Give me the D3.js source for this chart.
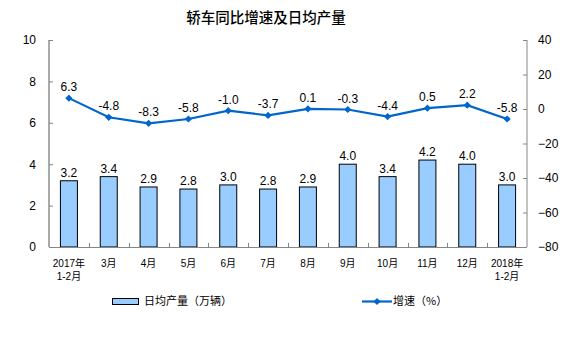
<!DOCTYPE html>
<html>
<head>
<meta charset="utf-8">
<script src="https://cdn.jsdelivr.net/npm/d3@7"></script>
<style>
  html, body { margin: 0; padding: 0; background: #fff; }
  svg { display: block; }
</style>
</head>
<body>
<svg id="chart" width="565" height="343"></svg>
<script>
// Categories (month labels, two lines where needed)
const months = [
  ["2017年", "1-2月"], ["3月"], ["4月"], ["5月"], ["6月"], ["7月"],
  ["8月"], ["9月"], ["10月"], ["11月"], ["12月"], ["2018年", "1-2月"]
];
// Daily average output (10k vehicles)
const dailyOutput = [3.2, 3.4, 2.9, 2.8, 3.0, 2.8, 2.9, 4.0, 3.4, 4.2, 4.0, 3.0];
// Year-on-year growth (%)
const growthRate = [6.3, -4.8, -8.3, -5.8, -1.0, -3.7, 0.1, -0.3, -4.4, 0.5, 2.2, -5.8];
// Axis ticks
const leftTicks = [0, 2, 4, 6, 8, 10];
const rightTicks = [-80, -60, -40, -20, 0, 20, 40];

const titleText = "轿车同比增速及日均产量";
const barLegend = "日均产量（万辆）";
const lineLegend = "增速（%）";

const svg = d3.select("#chart");
const m = { left: 49, right: 527, top: 40, bottom: 247 };
const sansFont = "'Liberation Sans', Arial, sans-serif";
const cjkFont = "'Noto Sans CJK SC', sans-serif";
const labelFont = "'Liberation Sans', 'Noto Sans CJK SC', sans-serif";
const axisColor = "#868686";
const lineColor = "#0066CC";
const barFill = "#99CCFF";

const x = d3.scaleBand().domain(d3.range(months.length)).range([m.left, m.right]);
const yL = d3.scaleLinear().domain([0, 10]).range([m.bottom, m.top]);
const yR = d3.scaleLinear().domain([-80, 40]).range([m.bottom, m.top]);
const cx = i => x(i) + x.bandwidth() / 2;

// Title
svg.append("text")
  .attr("x", 266).attr("y", 23)
  .attr("text-anchor", "middle")
  .style("font-family", cjkFont).style("font-size", "14.5px").style("font-weight", "500")
  .attr("fill", "#000")
  .text(titleText);

// Left and right value axes, ticks pointing inward
const leftAxis = svg.append("g").attr("transform", `translate(${m.left},0)`)
  .call(d3.axisLeft(yL).tickValues(leftTicks).tickSize(-4).tickPadding(13));
const rightAxis = svg.append("g").attr("transform", `translate(${m.right},0)`)
  .call(d3.axisRight(yR).tickValues(rightTicks).tickSize(-4).tickPadding(11));

[leftAxis, rightAxis].forEach(g => {
  g.select(".domain").attr("d", `M0,${m.top}V${m.bottom}`).attr("stroke", axisColor);
  g.selectAll(".tick line").attr("stroke", axisColor);
  g.selectAll(".tick text").style("font-family", sansFont).style("font-size", "12px").attr("fill", "#000");
});
leftAxis.select(".domain").attr("stroke", "#555");

// Bars
const bw = 17;
svg.append("g").selectAll("rect").data(dailyOutput).join("rect")
  .attr("x", (d, i) => cx(i) - bw / 2)
  .attr("y", d => yL(d))
  .attr("width", bw)
  .attr("height", d => yL(0) - yL(d))
  .attr("fill", barFill)
  .attr("stroke", "#000").attr("stroke-width", 1);

// Bottom axis with category-boundary ticks pointing up
const bottom = svg.append("g");
bottom.append("line")
  .attr("x1", m.left).attr("x2", m.right)
  .attr("y1", m.bottom + 0.5).attr("y2", m.bottom + 0.5)
  .attr("stroke", axisColor);
bottom.selectAll("line.tk").data(d3.range(1, months.length)).join("line")
  .attr("class", "tk")
  .attr("x1", i => Math.round(x(i)) + 0.5).attr("x2", i => Math.round(x(i)) + 0.5)
  .attr("y1", m.bottom).attr("y2", m.bottom - 4)
  .attr("stroke", axisColor);

// Category labels, one text per line
const catRows = months.flatMap((lines, i) => lines.map((t, j) => ({ i, j, t })));
svg.append("g").selectAll("text").data(catRows).join("text")
  .attr("x", d => cx(d.i))
  .attr("y", d => 267 + d.j * 12.5)
  .attr("text-anchor", "middle")
  .style("font-family", labelFont).style("font-size", "10px").attr("fill", "#000")
  .text(d => d.t);

// Bar value labels
svg.append("g").selectAll("text").data(dailyOutput).join("text")
  .attr("x", (d, i) => cx(i))
  .attr("y", d => yL(d) - 4)
  .attr("text-anchor", "middle")
  .style("font-family", sansFont).style("font-size", "12px").attr("fill", "#000")
  .text(d => d.toFixed(1));

// Growth line with diamond markers
const line = d3.line().x((d, i) => cx(i)).y(d => yR(d));
svg.append("path").datum(growthRate)
  .attr("d", line)
  .attr("fill", "none").attr("stroke", lineColor).attr("stroke-width", 2.2);

const diamond = d3.symbol().type(d3.symbolSquare).size(26);
svg.append("g").selectAll("path").data(growthRate).join("path")
  .attr("transform", (d, i) => `translate(${cx(i)},${yR(d)}) rotate(45)`)
  .attr("d", diamond)
  .attr("fill", lineColor);

// Growth value labels
svg.append("g").selectAll("text").data(growthRate).join("text")
  .attr("x", (d, i) => cx(i))
  .attr("y", d => yR(d) - 7)
  .attr("text-anchor", "middle")
  .style("font-family", sansFont).style("font-size", "12px").attr("fill", "#000")
  .text(d => d.toFixed(1));

// Legend
const legend = svg.append("g");
legend.append("rect")
  .attr("x", 112.5).attr("y", 298.5).attr("width", 26).attr("height", 6)
  .attr("fill", barFill).attr("stroke", "#000");
legend.append("text")
  .attr("x", 144).attr("y", 305)
  .style("font-family", cjkFont).style("font-size", "11px").attr("fill", "#000")
  .text(barLegend);
legend.append("line")
  .attr("x1", 362).attr("x2", 392).attr("y1", 301.5).attr("y2", 301.5)
  .attr("stroke", lineColor).attr("stroke-width", 2.2);
legend.append("path")
  .attr("transform", "translate(377,301.5) rotate(45)")
  .attr("d", diamond)
  .attr("fill", lineColor);
legend.append("text")
  .attr("x", 393).attr("y", 305)
  .style("font-family", cjkFont).style("font-size", "11px").attr("fill", "#000")
  .text(lineLegend);
</script>
</body>
</html>
